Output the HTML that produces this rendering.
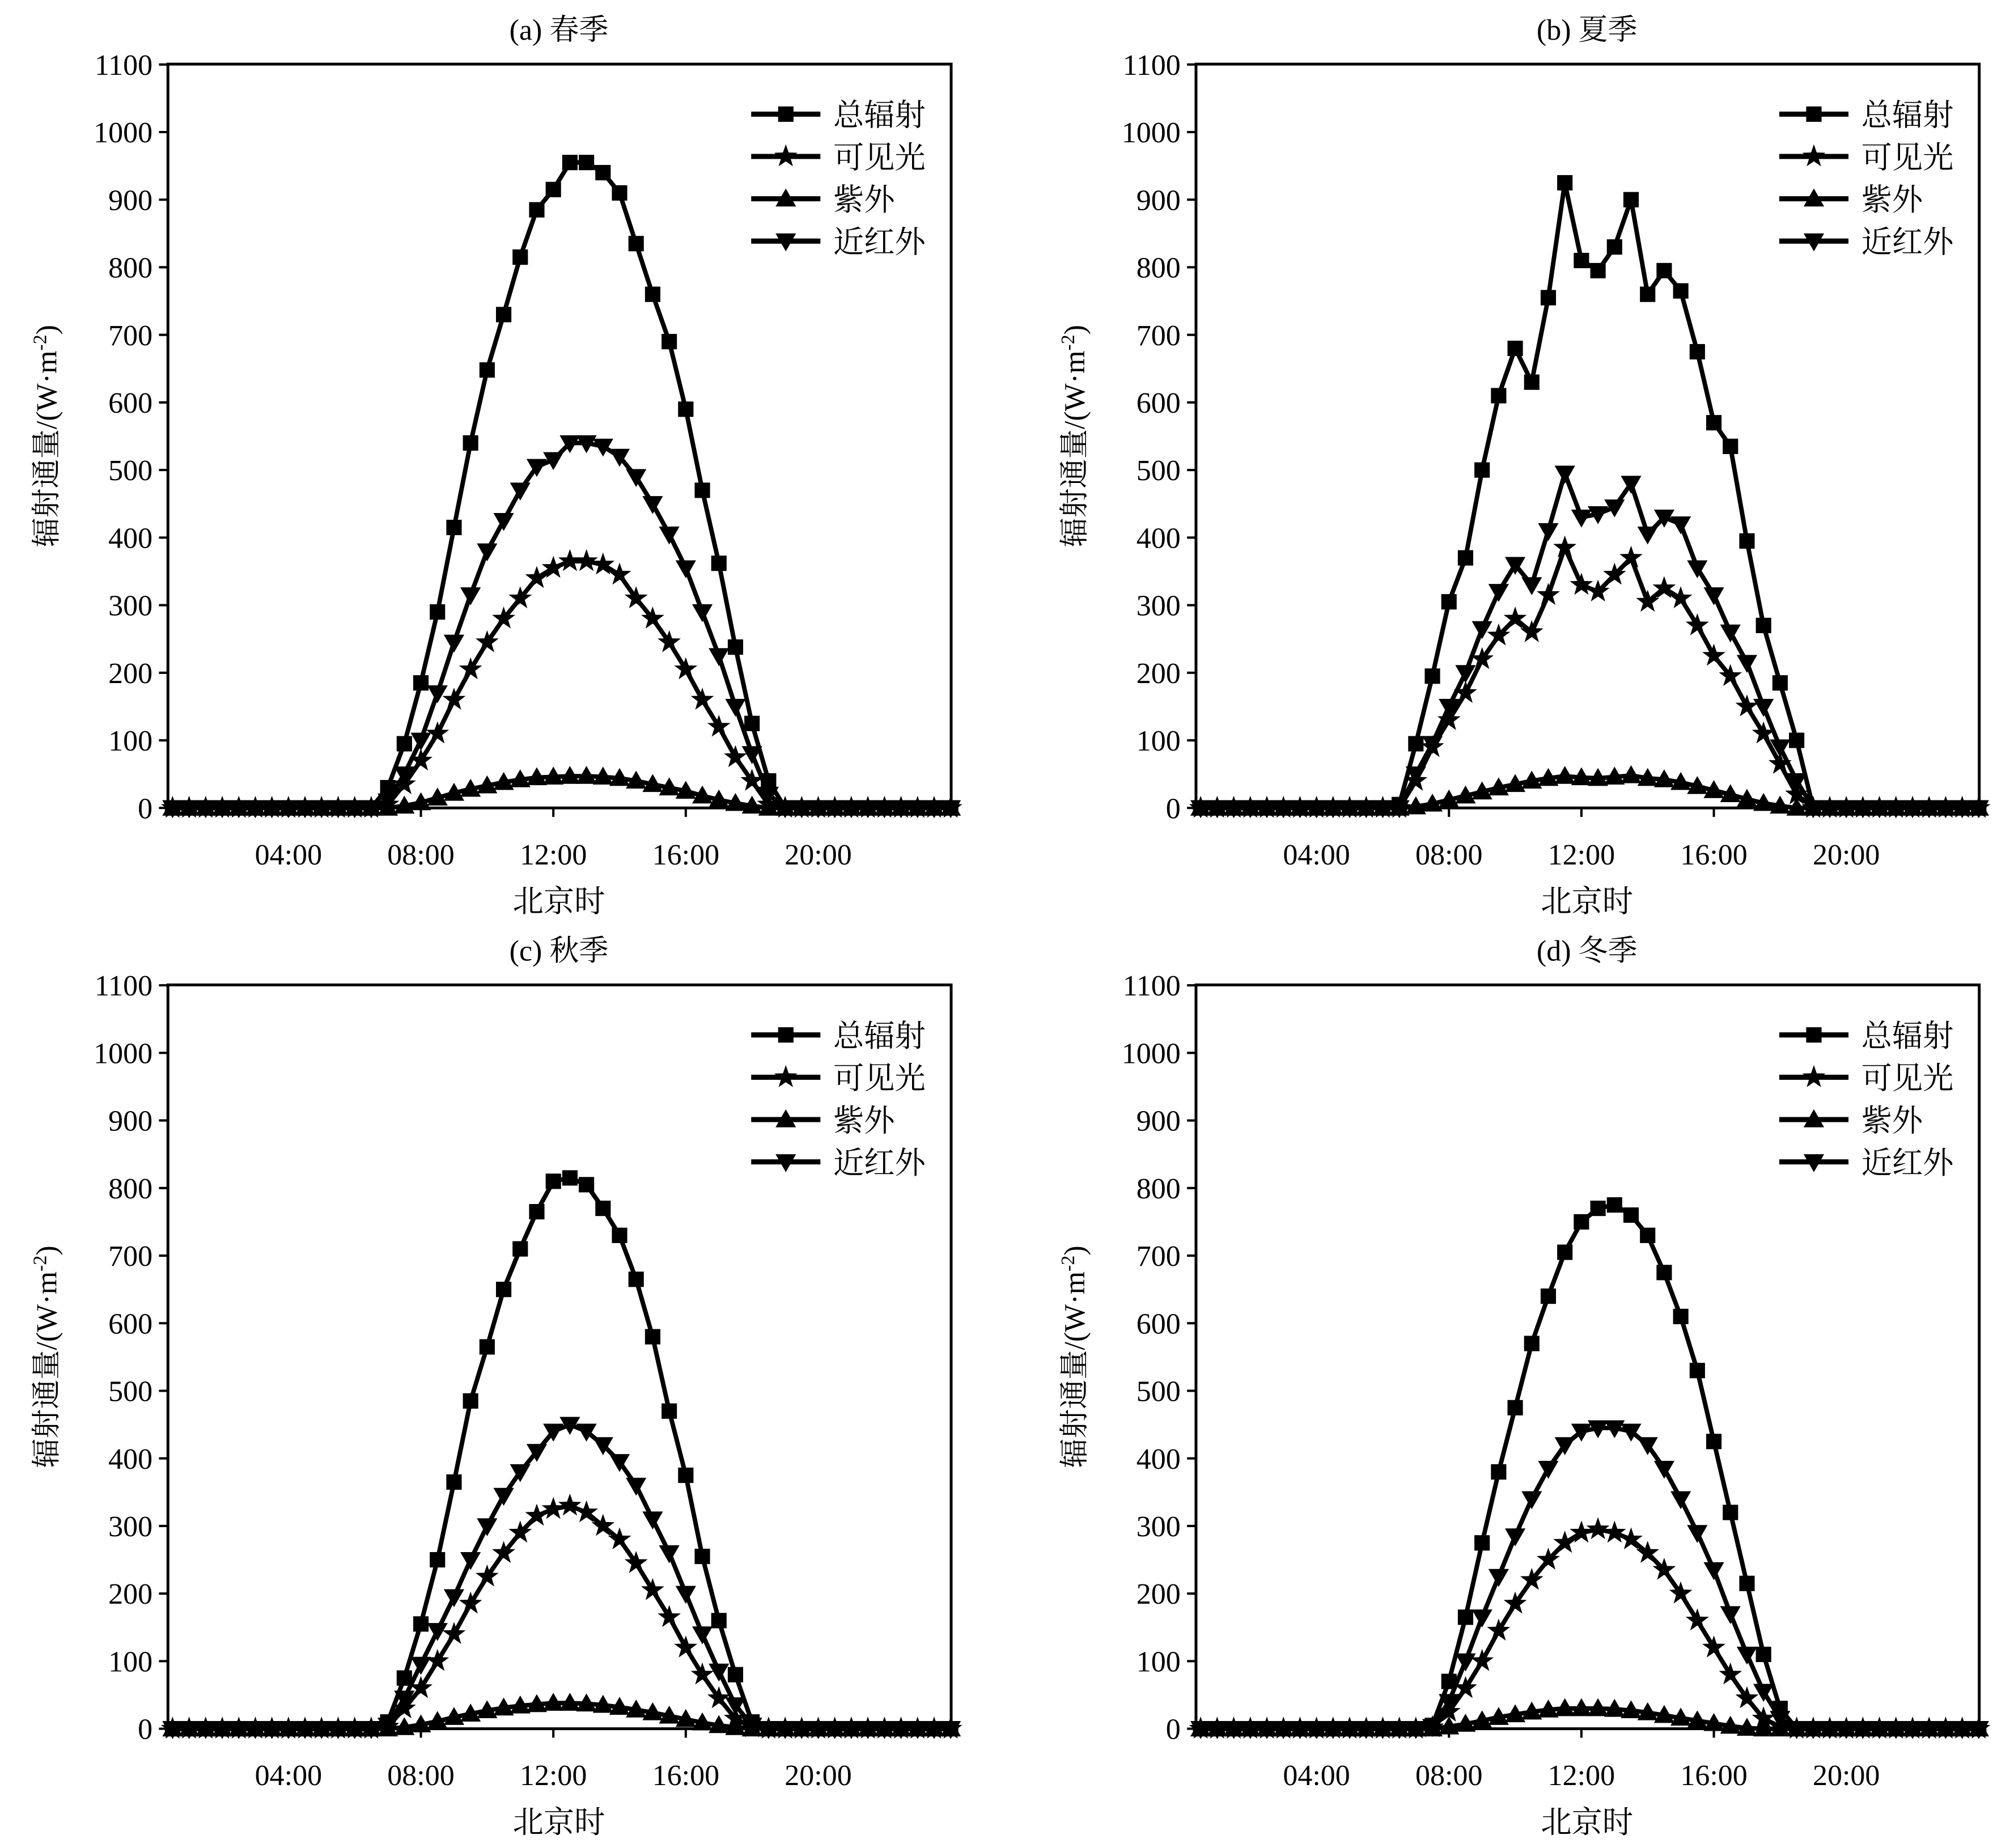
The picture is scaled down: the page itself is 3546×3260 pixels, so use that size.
<!DOCTYPE html>
<html><head><meta charset="utf-8"><style>
html,body{margin:0;padding:0;background:#fff;}
svg{display:block;}
text{font-family:"Liberation Serif","Noto Serif CJK SC","Noto Sans CJK SC",serif;fill:#000;}
</style></head><body>
<svg id="s" width="3546" height="3260" viewBox="0 0 1568 1441" preserveAspectRatio="none" xmlns="http://www.w3.org/2000/svg"></svg>
<script>
const S=document.getElementById('s');let h='';
function X(t){return 121.7+25.83*t;}
function Y(v){return 630-v*0.527;}
function mk(type,x,y){
 if(type==0)return `<rect x="${x-6}" y="${y-6}" width="12" height="12"/>`;
 if(type==2)return `<polygon points="${x},${y-8} ${x+8},${y+6} ${x-8},${y+6}"/>`;
 if(type==3)return `<polygon points="${x},${y+8} ${x+8},${y-6} ${x-8},${y-6}"/>`;
 let p=[];for(let i=0;i<10;i++){const r=i%2?3.8:9.5;const a=-Math.PI/2+i*Math.PI/5;p.push((x+r*Math.cos(a)).toFixed(1)+','+(y+r*Math.sin(a)).toFixed(1));}
 return `<polygon points="${p.join(' ')}"/>`;
}
function series(d){const o={};for(let t=0.5;t<=24.001;t+=0.5)o[t]=0;for(const k in d)o[+k]=d[k];return Object.keys(o).map(Number).sort((a,b)=>a-b).map(t=>[t,o[t]]);}
function arr(start,vals){const d={};vals.forEach((v,i)=>d[start+i*0.5]=v);return d;}
const P=[
 {title:"(a) 春季",dx:0,dy:0,s:[
  arr(7,[30,95,185,290,415,540,648,730,815,885,915,955,955,940,910,835,760,690,590,470,362,238,125,40,0]),
  arr(7,[5,35,70,110,160,205,245,280,310,340,355,365,365,360,345,310,280,245,205,160,120,75,40,5,0]),
  arr(7,[0,3,8,15,22,28,33,38,42,45,46,47,47,46,44,40,35,30,25,18,12,7,3,0]),
  arr(7,[10,50,100,170,245,315,380,425,470,505,515,540,540,535,520,490,450,405,355,290,225,150,80,20,0])]},
 {title:"(b) 夏季",dx:802,dy:0,s:[
  arr(6.5,[5,95,195,305,370,500,610,680,630,755,925,810,795,830,900,760,795,765,675,570,535,395,270,185,100,0]),
  arr(6.5,[0,40,90,130,170,220,255,280,260,315,385,330,320,345,370,305,325,310,270,225,195,150,110,65,20,0]),
  arr(7,[2,6,12,18,24,30,35,40,44,47,45,44,46,48,44,42,38,32,26,20,13,7,3,0]),
  arr(6.5,[0,50,95,150,200,265,320,360,330,410,495,430,435,445,480,405,430,420,355,315,260,215,150,90,40,0])]},
 {title:"(c) 秋季",dx:0,dy:718,s:[
  arr(7,[10,75,155,250,365,485,565,650,710,765,810,815,805,770,730,665,580,470,375,255,160,80,10,0]),
  arr(7,[3,30,60,100,140,185,225,260,290,315,325,330,320,300,280,245,205,165,120,80,45,15,2,0]),
  arr(7,[0,2,6,11,17,22,27,31,34,36,38,38,37,35,32,28,24,19,14,9,5,2,0]),
  arr(7,[5,45,95,145,195,250,300,345,380,410,440,450,440,420,395,360,310,260,200,140,85,35,5,0])]},
 {title:"(d) 冬季",dx:802,dy:718,s:[
  arr(7.5,[5,70,165,275,380,475,570,640,705,750,770,775,760,730,675,610,530,425,320,215,110,30,0]),
  arr(7.5,[2,25,60,100,145,185,220,250,275,290,295,290,280,260,235,200,160,120,80,45,15,3,0]),
  arr(7.5,[0,3,7,12,17,21,25,28,30,30,30,29,27,24,20,16,12,8,4,1,0]),
  arr(7.5,[3,40,100,165,225,285,340,385,420,440,445,445,440,420,385,340,290,235,170,110,55,15,0])]}
];
const names=["总辐射","可见光","紫外","近红外"];
P.forEach(p=>{
 h+=`<g transform="translate(${p.dx},${p.dy})">`;
 h+=`<text x="436" y="31" font-size="23" text-anchor="middle">${p.title}</text>`;
 for(let v=0;v<=1100;v+=100){const y=Y(v);h+=`<line x1="124" y1="${y}" x2="131" y2="${y}" stroke="#000" stroke-width="1.8"/><text x="119" y="${y+8}" font-size="23" text-anchor="end">${v}</text>`;}
 [4,8,12,16,20].forEach((t,i)=>{const x=X(t);h+=`<line x1="${x}" y1="630" x2="${x}" y2="637" stroke="#000" stroke-width="1.8"/><text x="${x}" y="674" font-size="23" text-anchor="middle">${String(t).padStart(2,'0')}:00</text>`;});
 h+=`<text x="436" y="711" font-size="24" text-anchor="middle">北京时</text>`;
 h+=`<text transform="translate(44,340) rotate(-90)" font-size="23" text-anchor="middle">辐射通量/(W·m<tspan dy="-8" font-size="15">-2</tspan><tspan dy="8">)</tspan></text>`;
 [0,1,2,3].forEach(k=>{const d=series(p.s[k]);h+=`<polyline fill="none" stroke="#000" stroke-width="3.5" stroke-linejoin="round" points="${d.map(q=>X(q[0]).toFixed(1)+','+Y(q[1]).toFixed(1)).join(' ')}"/>`;h+='<g fill="#000">'+d.map(q=>mk(k,X(q[0]),Y(q[1]))).join('')+'</g>';});
 h+=`<rect x="131" y="50" width="611" height="580" fill="none" stroke="#000" stroke-width="2.2"/>`;
 names.forEach((n,i)=>{const y=89+33*i;h+=`<line x1="586" y1="${y}" x2="640" y2="${y}" stroke="#000" stroke-width="4"/><g fill="#000">${mk(i,613,y)}</g><text x="650" y="${y+9}" font-size="24">${n}</text>`;});
 h+='</g>';
});
S.innerHTML=h;
</script>
</body></html>
